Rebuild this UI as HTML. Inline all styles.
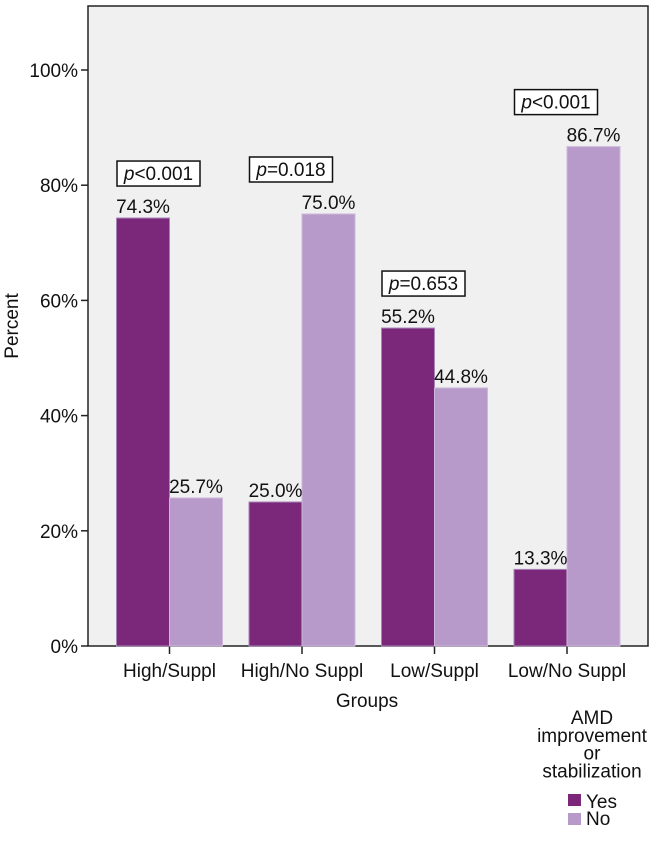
<!DOCTYPE html>
<html><head><meta charset="utf-8"><style>
body{margin:0;background:#fff;}
svg text{font-family:"Liberation Sans",Arial,sans-serif;fill:#111;}
</style></head><body>
<svg id="chart" width="657" height="836">
<rect x="88" y="6" width="560" height="640" fill="#f0f0f0" stroke="#222" stroke-width="1.5"/>
<g id="axes"></g><g id="bars"></g><g id="labels"></g>
<text x="18" y="326" font-size="19" transform="rotate(-90 18 326)" text-anchor="middle">Percent</text>
<text x="367" y="707" font-size="19" text-anchor="middle">Groups</text>
<g font-size="19" text-anchor="middle">
<text x="592" y="724"><tspan x="592">AMD</tspan><tspan x="592" dy="18">improvement</tspan><tspan x="592" dy="17.5">or</tspan><tspan x="592" dy="18">stabilization</tspan></text>
<rect x="568" y="794" width="13" height="12" fill="#7b287b"/>
<text x="586" y="808" text-anchor="start">Yes</text>
<rect x="568" y="813" width="13" height="12" fill="#b89aca"/>
<text x="586" y="825" text-anchor="start">No</text>
</g>
</svg>
<script>
const categories=["High/Suppl","High/No Suppl","Low/Suppl","Low/No Suppl"];
const yesValues=[74.3,25.0,55.2,13.3];
const noValues=[25.7,75.0,44.8,86.7];
const pLabels=["<0.001","=0.018","=0.653","<0.001"];
const yTicks=[0,20,40,60,80,100];
const NS="http://www.w3.org/2000/svg";
const y0=646,y100=70;
function y(v){return y0-(y0-y100)*v/100;}
const gx0=169.5,gStep=132.5,bw=53;
function gx(i){return gx0+i*gStep;}
function mk(tag,attrs,parent,txt){const e=document.createElementNS(NS,tag);for(const k in attrs)e.setAttribute(k,attrs[k]);if(txt!==undefined)e.textContent=txt;parent.appendChild(e);return e;}
const ax=document.getElementById('axes'),bars=document.getElementById('bars'),lab=document.getElementById('labels');
yTicks.forEach(t=>{
 const l=mk('line',{x1:81,x2:88,y1:y(t),y2:y(t),stroke:'#222','stroke-width':1.5},ax);
 
 
 const tx=mk('text',{x:78,y:y(t)+7,'font-size':19,'text-anchor':'end'},ax,t+'%');
 
 
});
categories.forEach((c,i)=>{
 const cx=gx(i);
 const tk=mk('line',{x1:cx,x2:cx,y1:646,y2:654,stroke:'#222','stroke-width':1.5},ax);
 
 
 const ct=mk('text',{x:cx,y:677,'font-size':19,'text-anchor':'middle'},ax,c);
 
 
 const by=mk('rect',{x:cx-bw,y:y(yesValues[i]),width:bw,height:y0-y(yesValues[i]),fill:'#7b287b',stroke:'#a784b8','stroke-width':1},bars);
 
 
 const bn=mk('rect',{x:cx,y:y(noValues[i]),width:bw,height:y0-y(noValues[i]),fill:'#b89aca',stroke:'#cdb8da','stroke-width':1},bars);
 
 
 const ly=mk('text',{x:cx-bw/2,y:y(yesValues[i])-5,'font-size':19,'text-anchor':'middle'},lab,yesValues[i].toFixed(1)+'%');
 
 
 const ln=mk('text',{x:cx+bw/2,y:y(noValues[i])-5,'font-size':19,'text-anchor':'middle'},lab,noValues[i].toFixed(1)+'%');
 
 
 const top=Math.max(yesValues[i],noValues[i]);
 const bBot=y(top)-32;
 const bx=mk('rect',{x:cx-52.5,y:bBot-25,width:83,height:25,fill:'#fff',stroke:'#111','stroke-width':1.5},lab);
 
 
 const pt=mk('text',{x:cx-11,y:bBot-6,'font-size':19,'text-anchor':'middle'},lab);
 
 
 mk('tspan',{'font-style':'italic'},pt,'p');
 mk('tspan',{},pt,pLabels[i]);
});
</script>
</body></html>
